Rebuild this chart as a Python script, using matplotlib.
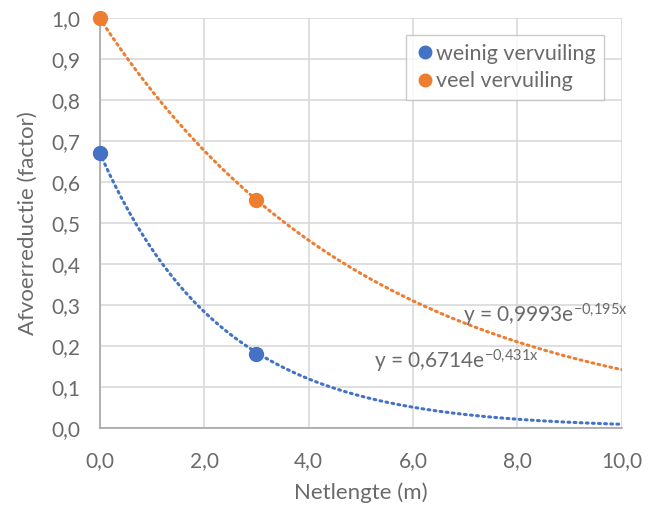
import numpy as np
from matplotlib import pyplot as plt

plt.rcParams['font.family'] = ['Lato', 'DejaVu Sans']
plt.rcParams['mathtext.default'] = 'regular'

# measured points: net length (m) vs discharge reduction factor
x_weinig = [0.0, 3.0]
y_weinig = [0.67, 0.18]
x_veel = [0.0, 3.0]
y_veel = [1.0, 0.555]

# exponential trendlines y = a * exp(b * x)
a_weinig, b_weinig = 0.6714, -0.431
a_veel, b_veel = 0.9993, -0.195

x_ticks = [0, 2, 4, 6, 8, 10]
y_ticks = [0.0, 0.1, 0.2, 0.3, 0.4, 0.5, 0.6, 0.7, 0.8, 0.9, 1.0]

blue = "#4472C4"
orange = "#ED7D31"
grey_text = "#6A6A6A"

fig = plt.figure(figsize=(6.65, 5.15), dpi=100)
ax = fig.add_axes([0.150, 0.169, 0.785, 0.796])

xs = np.linspace(0, 10, 200)
ax.plot(xs, a_weinig * np.exp(b_weinig * xs), color=blue, lw=2.2,
        linestyle=(0, (0.6, 1.4)), dash_capstyle="round", zorder=2)
ax.plot(xs, a_veel * np.exp(b_veel * xs), color=orange, lw=2.2,
        linestyle=(0, (0.6, 1.4)), dash_capstyle="round", zorder=2)

ax.plot(x_weinig, y_weinig, "o", color=blue, ms=10, label="weinig vervuiling",
        clip_on=False, zorder=3)
ax.plot(x_veel, y_veel, "o", color=orange, ms=10, label="veel vervuiling",
        clip_on=False, zorder=3)

ax.text(6.95, 0.258, r"y = 0,9993e$^{-0{,}195x}$", fontsize=15, color=grey_text)
ax.text(5.25, 0.144, r"y = 0,6714e$^{-0{,}431x}$", fontsize=15, color=grey_text)

ax.set_xlim(0, 10)
ax.set_ylim(0, 1.0)
ax.set_xticks(x_ticks)
ax.set_yticks(y_ticks)
ax.set_xticklabels([f"{v:.1f}".replace(".", ",") for v in x_ticks])
ax.set_yticklabels([f"{v:.1f}".replace(".", ",") for v in y_ticks])
ax.tick_params(length=0, labelsize=15, labelcolor=grey_text)
ax.tick_params(axis="x", pad=17)
ax.tick_params(axis="y", pad=14)

ax.grid(True, color="#D9D9D9", lw=1.2)
ax.set_axisbelow(True)
for side in ["top", "right"]:
    ax.spines[side].set_visible(False)
for side in ["left", "bottom"]:
    ax.spines[side].set_color("#A6A6A6")
    ax.spines[side].set_linewidth(1.2)

ax.set_xlabel("Netlengte (m)", fontsize=16, color=grey_text, labelpad=8)
ax.set_ylabel("Afvoerreductie (factor)", fontsize=16, color=grey_text, labelpad=10)

leg = ax.legend(loc="upper right", bbox_to_anchor=(0.987, 0.985), fontsize=15.5,
                frameon=True, fancybox=False, edgecolor="#BFBFBF",
                handletextpad=0.0, handlelength=1.0, borderpad=0.4,
                labelspacing=0.35, markerscale=0.9)
leg.get_frame().set_linewidth(1.0)
for t in leg.get_texts():
    t.set_color(grey_text)

fig.savefig("out.png", dpi=100)
